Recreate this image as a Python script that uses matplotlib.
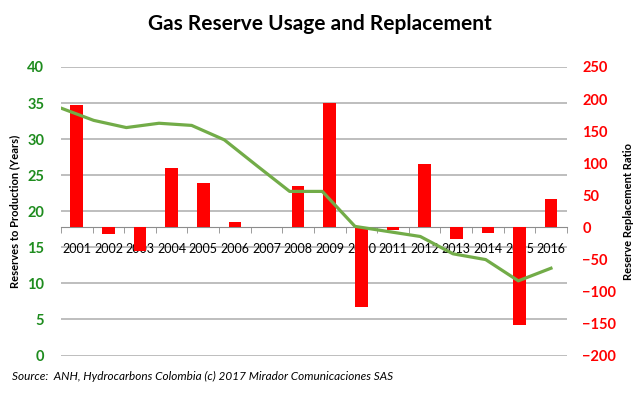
import matplotlib.pyplot as plt
import numpy as np

plt.rcParams['font.family'] = ['Lato', 'DejaVu Sans']

# data
years = ['2001', '2002', '2003', '2004', '2005', '2006', '2007', '2008',
         '2009', '2010', '2011', '2012', '2013', '2014', '2015', '2016']
replacement_ratio = [190, -10, -37, 93, 69, 8, 0, 64,
                     194, -125, -5, 99, -18, -9, -153, 44]
reserves_years = [34.3, 32.6, 31.6, 32.2, 31.9, 29.9, 26.3, 22.75,
                  22.75, 17.9, 17.2, 16.5, 14.1, 13.3, 10.35, 12.1]

fig = plt.figure(figsize=(6.4, 3.95), dpi=100)
rect = [0.0953, 0.10, 0.7906, 0.7304]

# bars on the right axis, line on the left axis
ax_bar = fig.add_axes(rect)
ax_line = fig.add_axes(rect)
ax_line.patch.set_visible(False)

x = np.arange(len(years))
ax_bar.bar(x, replacement_ratio, width=0.4, color='#FF0000', zorder=3)
ax_bar.set_xlim(-0.5, len(years) - 0.5)
ax_bar.set_ylim(-200, 250)
ax_bar.set_yticks(range(-200, 251, 50))
ax_bar.yaxis.tick_right()
ax_bar.yaxis.set_label_position('right')
ax_bar.tick_params(axis='y', length=0, pad=11, labelcolor='#FF0000',
                   labelsize=10.5)
for lab in ax_bar.get_yticklabels():
    lab.set_fontweight('bold')
ax_bar.set_ylabel('Reserve Replacement Ratio', fontsize=8, fontweight='bold',
                  rotation=90)
ax_bar.yaxis.set_label_coords(1.111, 0.5)

for s in ['top', 'left', 'right']:
    ax_bar.spines[s].set_visible(False)
ax_bar.spines['bottom'].set_position(('data', 0))
ax_bar.spines['bottom'].set_color('#8C8C8C')
ax_bar.set_xticks(x)
ax_bar.set_xticklabels(years)
ax_bar.set_xticks(np.arange(-0.5, len(years), 1), minor=True)
ax_bar.tick_params(axis='x', which='major', length=0, pad=11, labelsize=9)
ax_bar.tick_params(axis='x', which='minor', length=4, color='#8C8C8C',
                   direction='out')

# line axis with its own horizontal scale
ax_line.plot(np.arange(len(years)), reserves_years, color='#72AC48',
             linewidth=2.3, zorder=4)
ax_line.set_xlim(0, 15.49)
ax_line.set_xticks([])
ax_line.set_ylim(0, 40)
ax_line.set_yticks(range(0, 41, 5))
ax_line.tick_params(axis='y', length=0, pad=12, labelcolor='#1E8C1E',
                    labelsize=10.5)
for lab in ax_line.get_yticklabels():
    lab.set_fontweight('bold')
ax_line.set_ylabel('Reserves to Production (Years)', fontsize=8,
                   fontweight='bold')
ax_line.yaxis.set_label_coords(-0.081, 0.5)
for s in ax_line.spines.values():
    s.set_visible(False)

# gridlines follow the left scale, drawn on the bottom axes
for v in range(0, 41, 5):
    ax_bar.axhline(-200 + v * 450 / 40, color='#B3B3B3', linewidth=1.2,
                   zorder=0)

fig.suptitle('Gas Reserve Usage and Replacement', x=0.5, y=0.965,
             fontsize=15, fontweight='bold')
fig.text(0.018, 0.038, 'Source:  ANH, Hydrocarbons Colombia (c) 2017 Mirador Comunicaciones SAS',
         fontsize=8.5, style='italic')

fig.savefig('out.png', dpi=100)
